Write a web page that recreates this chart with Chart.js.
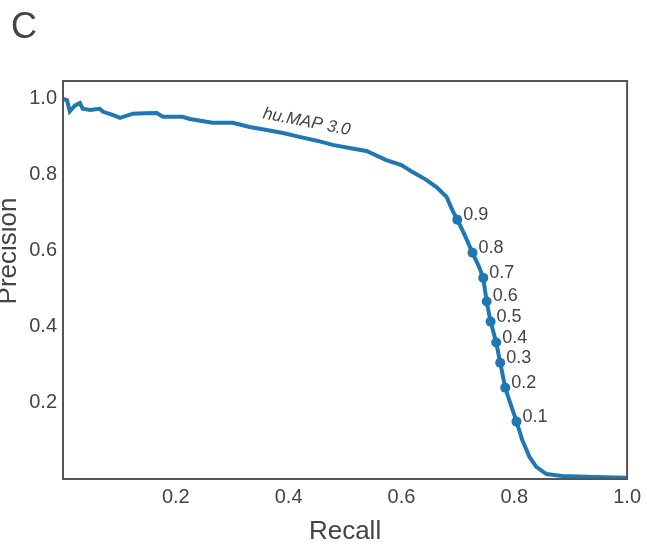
<!DOCTYPE html>
<html>
<head>
<meta charset="utf-8">
<script src="https://cdn.jsdelivr.net/npm/chart.js@4.4.1/dist/chart.umd.min.js"></script>
<style>
  html, body { margin: 0; padding: 0; background: #fff; }
</style>
</head>
<body>
<canvas id="chart" width="647" height="544"></canvas>
<script>
// precision-recall curve
const recall = [
  0.000, 0.007, 0.012, 0.021, 0.030, 0.035, 0.048, 0.065, 0.071, 0.084,
  0.096, 0.101, 0.124, 0.145, 0.166, 0.177, 0.212, 0.225, 0.265, 0.301,
  0.331, 0.361, 0.390, 0.419, 0.450, 0.478, 0.510, 0.538, 0.573, 0.600,
  0.619, 0.644, 0.662, 0.680, 0.690, 0.699, 0.712, 0.726, 0.737, 0.745,
  0.751, 0.758, 0.768, 0.775, 0.784, 0.791, 0.804, 0.814, 0.827, 0.839,
  0.857, 0.885, 0.940, 1.000
];
const precision = [
  1.000, 0.997, 0.967, 0.982, 0.989, 0.974, 0.971, 0.974, 0.966, 0.960,
  0.953, 0.950, 0.961, 0.962, 0.963, 0.953, 0.953, 0.947, 0.937, 0.937,
  0.926, 0.918, 0.910, 0.900, 0.890, 0.879, 0.870, 0.863, 0.839, 0.826,
  0.808, 0.787, 0.768, 0.742, 0.708, 0.682, 0.642, 0.595, 0.560, 0.529,
  0.467, 0.414, 0.359, 0.306, 0.240, 0.208, 0.151, 0.103, 0.058, 0.032,
  0.013, 0.008, 0.005, 0.003
];

// score thresholds marked on the curve
const thresholdLabels = ["0.9", "0.8", "0.7", "0.6", "0.5", "0.4", "0.3", "0.2", "0.1"];
const thresholdRecall = [0.699, 0.726, 0.745, 0.751, 0.758, 0.768, 0.775, 0.784, 0.804];
const thresholdPrecision = [0.682, 0.595, 0.529, 0.467, 0.414, 0.359, 0.306, 0.240, 0.151];

const xTicks = [0.2, 0.4, 0.6, 0.8, 1.0];
const yTicks = [0.2, 0.4, 0.6, 0.8, 1.0];

const seriesName = "hu.MAP 3.0";
const seriesNameAt = { x: 0.432, y: 0.939 };

const FONT = '"Liberation Sans", Arial, Helvetica, sans-serif';
const TEXT = "#444444";
const BLUE = "#1f77b4";

const decorations = {
  id: "decorations",
  afterDatasetsDraw(chart) {
    const { ctx, chartArea, scales } = chart;
    ctx.save();
    // frame around the plot
    ctx.strokeStyle = "#555555";
    ctx.lineWidth = 2;
    ctx.strokeRect(chartArea.left, chartArea.top, chartArea.right - chartArea.left, chartArea.bottom - chartArea.top);

    // threshold labels
    const meta = chart.getDatasetMeta(1);
    ctx.fillStyle = TEXT;
    ctx.font = "18px " + FONT;
    ctx.textAlign = "left";
    ctx.textBaseline = "middle";
    meta.data.forEach((pt, i) => {
      ctx.fillText(thresholdLabels[i], pt.x + 6, pt.y - 5);
    });

    // series name along the curve
    const px = scales.x.getPixelForValue(seriesNameAt.x);
    const py = scales.y.getPixelForValue(seriesNameAt.y);
    ctx.translate(px, py);
    ctx.rotate(11 * Math.PI / 180);
    ctx.font = "italic 17px " + FONT;
    ctx.textAlign = "center";
    ctx.fillText(seriesName, 0, 0);
    ctx.restore();
  },
  afterDraw(chart) {
    const { ctx, chartArea } = chart;
    ctx.save();
    ctx.fillStyle = TEXT;
    // panel letter
    ctx.font = "36px " + FONT;
    ctx.textAlign = "left";
    ctx.textBaseline = "alphabetic";
    ctx.fillText("C", 11, 38);
    // axis titles
    ctx.font = "26px " + FONT;
    ctx.textAlign = "center";
    ctx.fillText("Recall", (chartArea.left + chartArea.right) / 2, 539);
    ctx.translate(16, 251);
    ctx.rotate(-Math.PI / 2);
    ctx.fillText("Precision", 0, 0);
    ctx.restore();
  }
};

new Chart(document.getElementById("chart"), {
  type: "scatter",
  data: {
    datasets: [
      {
        data: recall.map((r, i) => ({ x: r, y: precision[i] })),
        showLine: true,
        borderColor: BLUE,
        borderWidth: 4,
        pointRadius: 0,
        tension: 0
      },
      {
        data: thresholdRecall.map((r, i) => ({ x: r, y: thresholdPrecision[i] })),
        showLine: false,
        pointRadius: 5,
        pointBackgroundColor: BLUE,
        pointBorderWidth: 0
      }
    ]
  },
  options: {
    responsive: false,
    animation: false,
    devicePixelRatio: 1,
    layout: { padding: { top: 81, right: 19, left: 0, bottom: 0 } },
    plugins: {
      legend: { display: false },
      tooltip: { enabled: false }
    },
    scales: {
      x: {
        type: "linear",
        min: 0,
        max: 1,
        afterBuildTicks: (s) => { s.ticks = xTicks.map((v) => ({ value: v })); },
        afterFit: (s) => { s.height = 65; },
        grid: { display: false, drawTicks: false },
        border: { display: false },
        ticks: {
          color: TEXT,
          padding: 6,
          font: { family: FONT, size: 20 },
          callback: (v) => v.toFixed(1)
        }
      },
      y: {
        type: "linear",
        min: 0,
        max: 1.047,
        afterBuildTicks: (s) => { s.ticks = yTicks.map((v) => ({ value: v })); },
        afterFit: (s) => { s.width = 63; },
        grid: { display: false, drawTicks: false },
        border: { display: false },
        ticks: {
          color: TEXT,
          padding: 6,
          font: { family: FONT, size: 20 },
          callback: (v) => v.toFixed(1)
        }
      }
    }
  },
  plugins: [decorations]
});
</script>
</body>
</html>
